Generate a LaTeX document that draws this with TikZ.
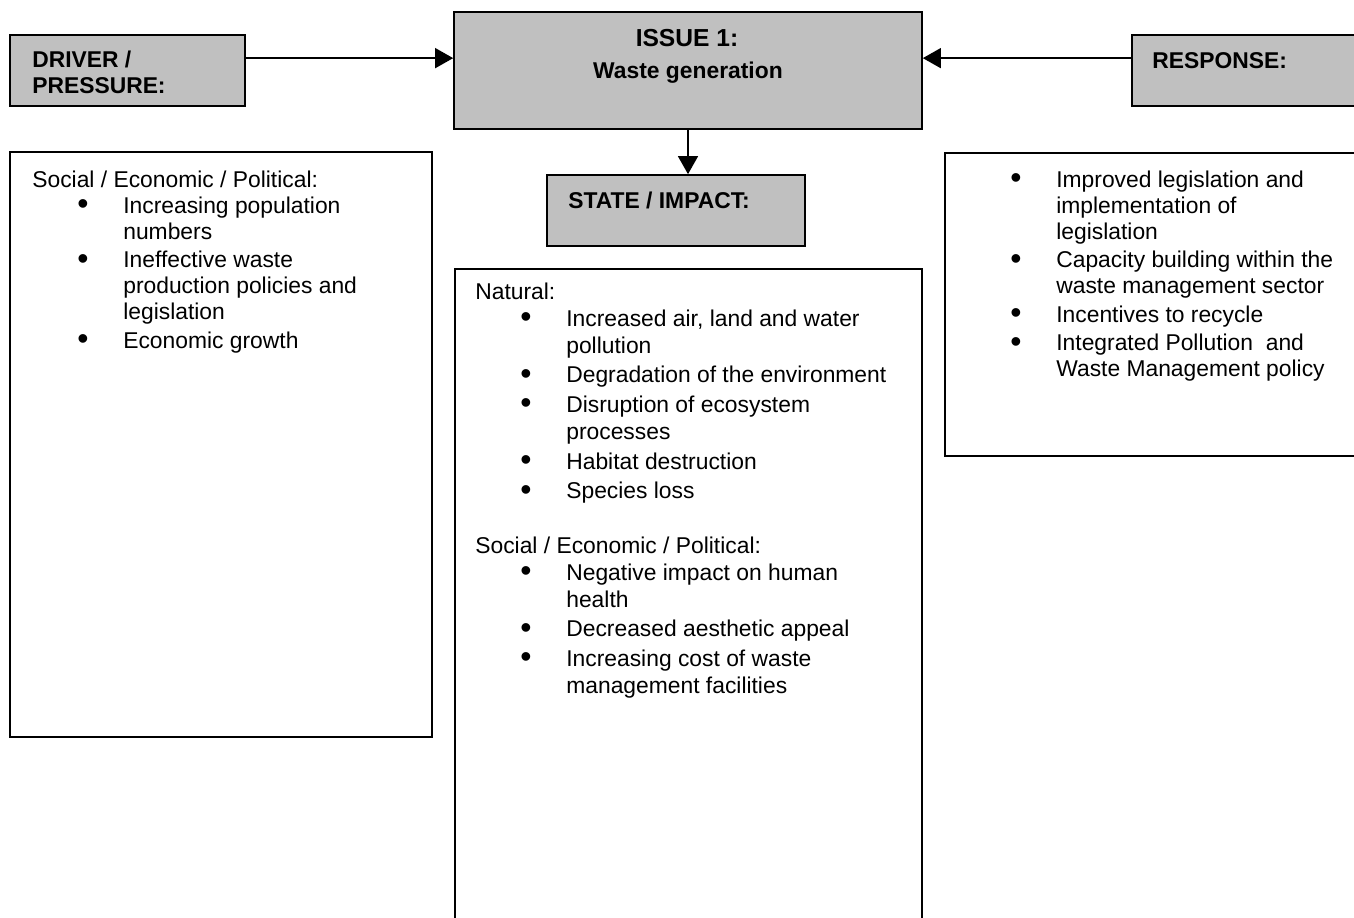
\documentclass[tikz,border=0pt]{standalone}
\usepackage{fontspec}
\setmainfont{Liberation Sans}
\usepackage{xcolor}
\usetikzlibrary{arrows.meta}
\usetikzlibrary{positioning}

\definecolor{boxgray}{RGB}{192,192,192}
\newcommand{\itembul}{\makebox[1.82cm][l]{\hspace{0.90cm}\raisebox{-0.8pt}{\scalebox{1.4}{\textbullet}}}}
\newcommand{\itemgap}{\hspace*{1.82cm}}

\tikzset{
  grayblock/.style={draw, line width=1pt, fill=boxgray, inner sep=0pt},
  listblock/.style={draw, line width=1pt, fill=white, inner sep=0pt},
  headtxt/.style={font=\fontsize{13}{15.3}\selectfont\bfseries, inner sep=0pt},
  listtxt/.style={font=\fontsize{13}{14.8}\selectfont, inner sep=0pt, anchor=base west},
  flow/.style={line width=0.8pt, -{Triangle[length=0.36cm, width=0.4cm]}}
}

\begin{document}
\begin{tikzpicture}[x=0.02cm, y=-0.02cm]
        \useasboundingbox (0,0) rectangle (1354,917);
        \fill[white] (0,0) rectangle (1354,917);
        \clip (0,0) rectangle (1354,917);

        % top row of grey blocks
        \node[grayblock, minimum width=4.70cm, minimum height=1.42cm] (driver) at (127.5,70.5) {};
        \node[grayblock, minimum width=9.36cm, minimum height=2.34cm] (issue) at (688,70.5) {};
        \node[grayblock, minimum width=5.36cm, minimum height=1.42cm] (response) at (1266,70.5) {};
        \node[grayblock, minimum width=5.16cm, minimum height=1.42cm] (state) at (676,210.5) {};

        % white list blocks
        \node[listblock, minimum width=8.44cm, minimum height=11.70cm] (driverlist) at (221,444.5) {};
        \node[listblock, minimum width=9.34cm, minimum height=13.82cm] (statelist) at (688.5,614.5) {};
        \node[listblock, minimum width=9.10cm, minimum height=6.06cm] (responselist) at (1172.5,304.5) {};

        % block titles
        \node[headtxt, anchor=base west] (drivertitle) at (32,67)
            {\begin{tabular}[t]{@{}l@{}}DRIVER /\\PRESSURE:\end{tabular}};
        \node[headtxt, font=\fontsize{14}{16}\selectfont\bfseries, anchor=base] (issuetitle) at (687,46) {ISSUE 1:};
        \node[headtxt, anchor=base] (issuesub) at (688,78) {Waste generation};
        \node[headtxt, anchor=base west] (responsetitle) at (1152,68) {RESPONSE:};
        \node[headtxt, anchor=base west] (statetitle) at (568,208) {STATE / IMPACT:};

        % connectors
        \coordinate (dArrow) at ([yshift=-0.48cm]driver.north east);
        \coordinate (rArrow) at ([yshift=-0.48cm]response.north west);
        \draw[flow] (dArrow) -- (dArrow -| issue.west);
        \draw[flow] (rArrow) -- (rArrow -| issue.east);
        \draw[flow] (issue.south) -- (issue.south |- state.north);

        % list texts
        \node[listtxt] (drivertxt) at (32,187) {\begin{tabular}[t]{@{}l@{}}
            Social / Economic / Political:\\
            \itembul Increasing population\\
            \itemgap numbers\\[1.5pt]
            \itembul Ineffective waste\\
            \itemgap production policies and\\
            \itemgap legislation\\[1.5pt]
            \itembul Economic growth
        \end{tabular}};
        \node[listtxt, font=\fontsize{13}{15.4}\selectfont] (statetxt) at (475,299) {\begin{tabular}[t]{@{}l@{}}
            Natural:\\
            \itembul Increased air, land and water\\
            \itemgap pollution\\[1.5pt]
            \itembul Degradation of the environment\\[1.5pt]
            \itembul Disruption of ecosystem\\
            \itemgap processes\\[1.5pt]
            \itembul Habitat destruction\\[1.5pt]
            \itembul Species loss\\
            \\
            Social / Economic / Political:\\
            \itembul Negative impact on human\\
            \itemgap health\\[1.5pt]
            \itembul Decreased aesthetic appeal\\[1.5pt]
            \itembul Increasing cost of waste\\
            \itemgap management facilities
        \end{tabular}};
        \node[listtxt] (responsetxt) at (965,187) {\begin{tabular}[t]{@{}l@{}}
            \itembul Improved legislation and\\
            \itemgap implementation of\\
            \itemgap legislation\\[1.5pt]
            \itembul Capacity building within the\\
            \itemgap waste management sector\\[1.5pt]
            \itembul Incentives to recycle\\[1.5pt]
            \itembul Integrated Pollution\ \ and\\
            \itemgap Waste Management policy
        \end{tabular}};
\end{tikzpicture}
\end{document}
